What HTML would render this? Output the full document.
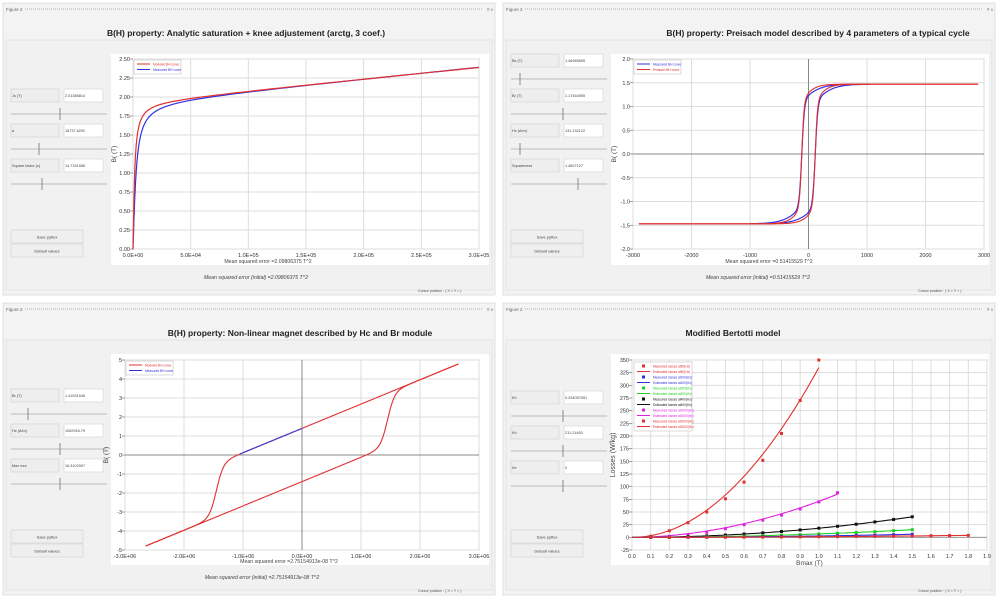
<!DOCTYPE html>
<html><head><meta charset="utf-8"><style>
html,body{margin:0;padding:0;background:#fff;width:1000px;height:599px;overflow:hidden}
svg{display:block;font-family:"Liberation Sans",sans-serif}
</style></head><body>
<svg id="s" width="1000" height="599" viewBox="0 0 1000 599" xmlns="http://www.w3.org/2000/svg">
<rect width="1000" height="599" fill="#fff"/>
<g id="g"></g>
</svg>
<script>
var g=document.getElementById('g'),NS='http://www.w3.org/2000/svg';
function el(t,a,txt,p){var e=document.createElementNS(NS,t);for(var k in a)e.setAttribute(k,a[k]);if(txt!=null)e.textContent=txt;(p||g).appendChild(e);return e;}
function line(x1,y1,x2,y2,c,w,extra){var a={x1:x1,y1:y1,x2:x2,y2:y2,stroke:c,'stroke-width':w||1};for(var k in extra)a[k]=extra[k];return el('line',a);}
function text(x,y,s,sz,extra){var a={x:x,y:y,'font-size':sz||6,fill:'#333'};for(var k in extra)a[k]=extra[k];return el('text',a,s);}
function rect(x,y,w,h,f,s){return el('rect',{x:x,y:y,width:w,height:h,fill:f,stroke:s||'none','stroke-width':0.7});}

function panel(ox,oy,title,tx,ty,labels,vals,thumbs,err,errx,init,initx){
  rect(ox+3,oy+3,492,292,'#f3f3f3','#d6d6d6');
  text(ox+6,oy+11,'Figure 2',4.5,{fill:'#666'});
  line(ox+25,oy+9,ox+483,oy+9,'#c8c8c8',1.5,{'stroke-dasharray':'1 1'});
  text(ox+487,oy+11,'# x',4.5,{fill:'#777'});
  text(tx,oy+ty,title,8.5,{'font-weight':'bold','text-anchor':'middle',fill:'#222'});
  rect(ox+6,oy+40,486,250,'#f1f1f1','#dcdcdc');
  rect(ox+111,oy+54,378,211,'#fff');
  for(var i=0;i<labels.length;i++){
    var ry=oy+thumbs.y0+i*35;
    rect(ox+11,ry,48,13,'#eeeeee','#d4d4d4');
    text(ox+12,ry+8,labels[i],3.8,{fill:'#444'});
    rect(ox+64,ry,39,13,'#fff','#d8d8d8');
    text(ox+65,ry+8,vals[i],3.8,{fill:'#444'});
    line(ox+11,ry+25,ox+107,ry+25,'#aaa',0.7);
    line(ox+thumbs.x[i],ry+19,ox+thumbs.x[i],ry+31,'#888',1);
  }
  rect(ox+11,oy+230,72,13,'#efefef','#d4d4d4');
  text(ox+47,oy+238.5,'Save pyflux',4,{'text-anchor':'middle',fill:'#444'});
  rect(ox+11,oy+244,72,13,'#efefef','#d4d4d4');
  text(ox+47,oy+252.5,'Default values',4,{'text-anchor':'middle',fill:'#444'});
  if(err)text(errx,oy+263,err,5.2,{'text-anchor':'middle',fill:'#444'});
  if(init)text(initx,oy+279,init,5.2,{'text-anchor':'middle','font-style':'italic',fill:'#444'});
  text(ox+418,oy+292,'Cursor position : ( X =         Y =         )',3.6,{fill:'#555'});
}
function axes(x0,y0,x1,y1,xt,yt,xl,yl,zero){
  el('rect',{x:x0,y:y0,width:x1-x0,height:y1-y0,fill:'#fff',stroke:'#999','stroke-width':1});
  for(var i=0;i<xt.length;i++){var X=x0+(x1-x0)*i/(xt.length-1);line(X,y0,X,y1,'#ddd',1);text(X,y1+8,xt[i],5.5,{'text-anchor':'middle'});}
  for(var j=0;j<yt.length;j++){var Y=y1-(y1-y0)*j/(yt.length-1);line(x0,Y,x1,Y,'#ddd',1);line(x0-3,Y,x0,Y,'#777',0.7);text(x0-3,Y+2,yt[j],5.5,{'text-anchor':'end'});}
  if(zero){line(zero[0],y0,zero[0],y1,'#888',1);line(x0,zero[1],x1,zero[1],'#888',1);}
  if(xl)text((x0+x1)/2+xl[1],y1+15,xl[0],xl[2]||5.5,{'text-anchor':'middle',fill:'#444'});
  var yx=x0-17,yy=(y0+y1)/2;
  text(yx,yy,yl[0],yl[1]||7,{'text-anchor':'middle',transform:'rotate(-90 '+yx+' '+yy+')',fill:'#444'});
}
function path(pts,c,w){var d='';for(var i=0;i<pts.length;i++)d+=(i?'L':'M')+pts[i][0].toFixed(1)+' '+pts[i][1].toFixed(1);el('path',{d:d,fill:'none',stroke:c,'stroke-width':w||1.2});}
function curve(f,a,b,n,mx,my){var p=[];for(var i=0;i<=n;i++){var h=a+(b-a)*i/n;p.push([mx(h),my(f(h))]);}return p;}
function legend(x,y,w,items){rect(x,y,w,items.length*5.5+3,'#fff','#ccc');items.forEach(function(it,i){var Y=y+4+i*5.5;if(it[2])el('rect',{x:x+8,y:Y-1.5,width:3,height:3,fill:it[0]});else line(x+3,Y,x+16,Y,it[0],1);text(x+19,Y+1.5,it[1],3.2,{fill:it[0]});});}

// Panel 1
panel(0,0,'B(H) property: Analytic saturation + knee adjustement (arctg, 3 coef.)',246,36,['Js (T)','a','Square factor (c)'],['2.01386814','18737.6292','14.7331556'],{y0:89,x:[60,39,42]},'Mean squared error =2.09806375 T^2',268,'Mean squared error (initial) =2.09806375 T^2',256);
axes(133,59,479,249,['0.0E+00','5.0E+04','1.0E+05','1.5E+05','2.0E+05','2.5E+05','3.0E+05'],['0.00','0.25','0.50','0.75','1.00','1.25','1.50','1.75','2.00','2.25','2.50'],null,['B( (T)',6.5]);
(function(){var mx=function(h){return 133+346*h/3e5},my=function(b){return 249-190*b/2.5};
function f(a){return function(h){return 1.945*0.6366*Math.atan(h/a)+1.52e-6*h;}}
var pr=[[133,249]].concat(curve(f(1400),0,3e4,150,mx,my)).concat(curve(f(1400),3e4,3e5,60,mx,my));
var pb=[[133,249]].concat(curve(f(2600),0,3e4,150,mx,my)).concat(curve(f(2600),3e4,3e5,60,mx,my));
pr=pr.map(function(p){return [p[0],p[1]+0.5]});
path(pb,'#3030e0',1.2);path(pr,'#e03030',1.2);})();
legend(134,60,47,[['#e03030','Modeled BH curve'],['#3030e0','Measured BH curve']]);

// Panel 2
panel(500,0,'B(H) property: Preisach model described by 4 parameters of a typical cycle',818,36,['Bs (T)','Br (T)','Hc (A/m)','Squareness'],['1.46965695','1.17464595','131.232122','1.4807127'],{y0:54,x:[20,63,20,78]},'Mean squared error =0.51415529 T^2',769,'Mean squared error (initial) =0.51415529 T^2',758);
axes(633,59,984,249,['-3000','-2000','-1000','0','1000','2000','3000'],['-2.0','-1.5','-1.0','-0.5','0.0','0.5','1.0','1.5','2.0'],null,['B( (T)',6.5],[808.5,154]);
(function(){var mx=function(h){return 633+351*(h+3000)/6000},my=function(b){return 154-47.5*b};
function up(a,b){return function(h){return 1.12*Math.tanh((h-115)/a)+0.35*Math.tanh((h-115)/b)}}
function dn(a,b){return function(h){return 1.12*Math.tanh((h+115)/a)+0.35*Math.tanh((h+115)/b)}}
path(curve(dn(45,320),1050,-1000,300,mx,my),'#3030e0',1.2);path(curve(up(45,320),-1000,1050,300,mx,my),'#3030e0',1.2);
path(curve(dn(40,220),2900,-2900,500,mx,my),'#e03030',1.1);path(curve(up(40,220),-2900,2900,500,mx,my),'#e03030',1.1);})();
legend(634,60,47,[['#3030e0','Measured BH curve'],['#e03030','Preisach BH curve']]);

// Panel 3
panel(0,300,'B(H) property: Non-linear magnet described by Hc and Br module',300,36,['Br (T)','Hc (A/m)','Max mur'],['1.41531546','1062918.79','16.3102907'],{y0:89,x:[28,60,60]},'Mean squared error =2.75154913e-08 T^2',289,'Mean squared error (initial) =2.75154913e-08 T^2',262);
axes(125,360,479,550,['-3.0E+06','-2.0E+06','-1.0E+06','0.0E+00','1.0E+06','2.0E+06','3.0E+06'],['-5','-4','-3','-2','-1','0','1','2','3','4','5'],null,['B( (T)',6.5],[302,455]);
(function(){var mx=function(h){return 125+354*(h+3e6)/6e6},my=function(b){return 455-19*b};var m=1.28e-6;
function dn(h){return m*h+1.4*Math.tanh((h+1.45e6)/1.2e5)}function up(h){return m*h+1.4*Math.tanh((h-1.45e6)/1.2e5)}
path(curve(dn,2.65e6,-2.65e6,400,mx,my),'#e03030',1.1);path(curve(up,-2.65e6,2.65e6,400,mx,my),'#e03030',1.1);
path(curve(function(h){return m*h+1.4},-1.05e6,0,20,mx,my),'#4040d0',1.2);})();
legend(126,361,47,[['#e03030','Modeled BH curve'],['#3030e0','Measured BH curve']]);

// Panel 4
panel(500,300,'Modified Bertotti model',733,36,['Kh','Kh','Ke'],['0.334057591','211.21463','0'],{y0:91,x:[63,63,63]},null,0,null,0);
axes(632,360,987,550,['0.0','0.1','0.2','0.3','0.4','0.5','0.6','0.7','0.8','0.9','1.0','1.1','1.2','1.3','1.4','1.5','1.6','1.7','1.8','1.9'],['-25','0','25','50','75','100','125','150','175','200','225','250','275','300','325','350'],['Bmax (T)',0,6.5],['Losses (W/kg)',7]);
(function(){var mx=function(b){return 632+355*b/1.9},my=function(v){return 550-190*(v+25)/375};
line(632,my(0),987,my(0),'#999',1);
var S=[['#e03030',335,2,1.0,[2,13,29,50,76,109,152,205,270,350],0.1],['#e020e0',71,1.9,1.1,[2,5,10,17,25,34,44,56,70,88],0.2],['#111',18,2,1.5,null,0.1],['#20d020',6.7,2,1.5,null,0.1],['#3030e0',2.7,2,1.5,null,0.1],['#e03030',1.2,2,1.8,null,0.1]];
S.forEach(function(s){path(curve(function(b){return s[1]*Math.pow(b,s[2])},0,s[3],80,mx,my),s[0],1.1);
 for(var b=s[5];b<=s[3]+1e-6;b+=0.1){var v=s[4]?s[4][Math.round((b-s[5])*10)]:s[1]*Math.pow(b,s[2]);el('rect',{x:mx(b)-1.5,y:my(v)-1.5,width:3,height:3,fill:s[0]});}});})();
legend(634,362,58,[['#e03030','Measured losses at50(Hz)',1],['#e03030','Estimated losses at50(Hz)'],['#3030e0','Measured losses at100(Hz)',1],['#3030e0','Estimated losses at100(Hz)'],['#20d020','Measured losses at200(Hz)',1],['#20d020','Estimated losses at200(Hz)'],['#111','Measured losses at400(Hz)',1],['#111','Estimated losses at400(Hz)'],['#e020e0','Measured losses at1000(Hz)',1],['#e020e0','Estimated losses at1000(Hz)'],['#e03030','Measured losses at2000(Hz)',1],['#e03030','Estimated losses at2000(Hz)']]);
</script>
</body></html>
